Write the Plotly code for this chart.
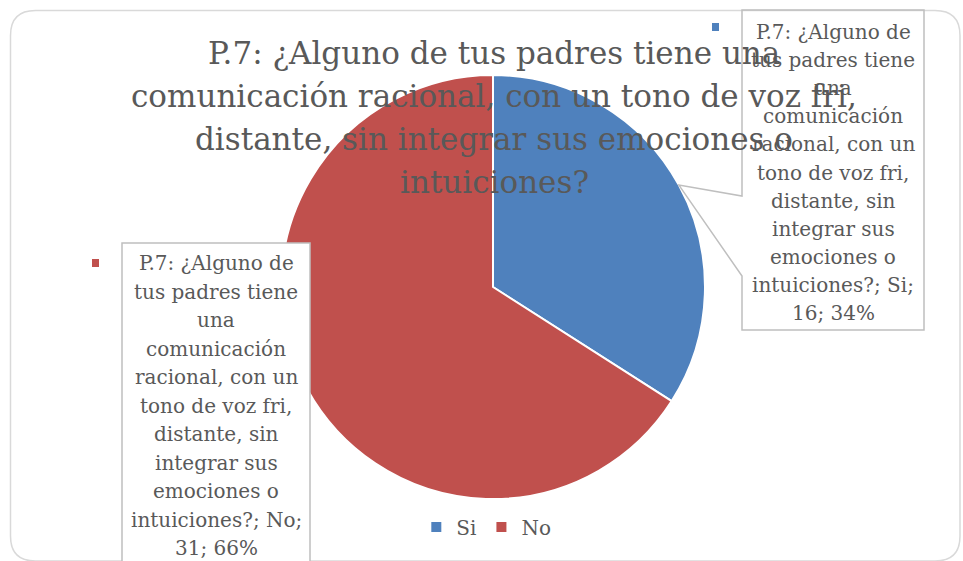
import math
import plotly.graph_objects as go

W, H = 963, 561

# ---- data ----
labels = ["Si", "No"]
values = [16, 31]
colors = ["#4F81BD", "#C0504D"]
title_lines = [
    "P.7: ¿Alguno de tus padres tiene una",
    "comunicación racional, con un tono de voz fri,",
    "distante, sin integrar sus emociones o",
    "intuiciones?",
]
label_common_lines = [
    "P.7: ¿Alguno de", "tus padres tiene", "una", "comunicación",
    "racional, con un", "tono de voz fri,", "distante, sin",
    "integrar sus", "emociones o",
]

total = sum(values)
pcts = [round(100 * v / total) for v in values]

def px(x):
    return x / W

def py(y):
    return 1 - y / H

TXT = "#595959"
SERIF = "DejaVu Serif, serif"

# pie geometry (pixels)
cx, cy, r = 493, 287, 212

fig = go.Figure(go.Pie(
    labels=labels, values=values, sort=False, direction="clockwise",
    rotation=0, textinfo="none", hoverinfo="label+value+percent",
    marker=dict(colors=colors, line=dict(color="white", width=2)),
    domain=dict(x=[px(cx - r), px(cx + r)], y=[py(cy + r), py(cy - r)]),
))

shapes = []
annotations = []

# outer rounded border
x0, y0, x1, y1, rr = 10.5, 10.5, 960, 561, 25
path = (f"M {px(x0+rr)},{py(y0)} L {px(x1-rr)},{py(y0)} Q {px(x1)},{py(y0)} {px(x1)},{py(y0+rr)} "
        f"L {px(x1)},{py(y1-rr)} Q {px(x1)},{py(y1)} {px(x1-rr)},{py(y1)} "
        f"L {px(x0+rr)},{py(y1)} Q {px(x0)},{py(y1)} {px(x0)},{py(y1-rr)} "
        f"L {px(x0)},{py(y0+rr)} Q {px(x0)},{py(y0)} {px(x0+rr)},{py(y0)} Z")
shapes.append(dict(type="path", xref="paper", yref="paper", path=path,
                   line=dict(color="#D9D9D9", width=1.5), layer="below"))

# slice mid-angle tip for first slice (clockwise from top)
mid0 = (values[0] / total) * 360 / 2
tipx = cx + r * math.sin(math.radians(mid0))
tipy = cy - r * math.cos(math.radians(mid0))

# right callout box
bx0, by0, bx1, by1 = 742, 10, 924, 330
callout = (f"M {px(bx0)},{py(by0)} L {px(bx1)},{py(by0)} L {px(bx1)},{py(by1)} L {px(bx0)},{py(by1)} "
           f"L {px(bx0)},{py(276)} L {px(tipx)},{py(tipy)} L {px(bx0)},{py(196)} Z")
shapes.append(dict(type="path", xref="paper", yref="paper", path=callout,
                   line=dict(color="#BFBFBF", width=1.5), fillcolor="rgba(255,255,255,0)", layer="above"))

# left box
lx0, ly0, lx1, ly1 = 122, 243, 310, 565
shapes.append(dict(type="rect", xref="paper", yref="paper",
                   x0=px(lx0), x1=px(lx1), y0=py(ly1), y1=py(ly0),
                   line=dict(color="#BFBFBF", width=1.5), fillcolor="white", layer="above"))

# legend-key squares near labels
shapes.append(dict(type="rect", xref="paper", yref="paper", x0=px(712), x1=px(719), y0=py(31), y1=py(23),
                   line=dict(width=0), fillcolor=colors[0], layer="above"))
shapes.append(dict(type="rect", xref="paper", yref="paper", x0=px(92), x1=px(99), y0=py(267), y1=py(259),
                   line=dict(width=0), fillcolor=colors[1], layer="above"))

def add_lines(lines, xc, y_first, step, size):
    for i, t in enumerate(lines):
        annotations.append(dict(text=t, x=px(xc), y=py(y_first + i * step), xref="paper", yref="paper",
                                xanchor="center", yanchor="middle", showarrow=False,
                                font=dict(family=SERIF, size=size, color=TXT)))

for i, (lab, val, pc) in enumerate(zip(labels, values, pcts)):
    lines = label_common_lines + [f"intuiciones?; {lab};", f"{val}; {pc}%"]
    if i == 0:
        add_lines(lines, (bx0 + bx1) / 2, 32, 28.1, 20)
    else:
        add_lines(lines, (lx0 + lx1) / 2, 263, 28.5, 20)

# title lines (on top)
add_lines(title_lines, 494, 53, 43, 31)

fig.update_layout(
    width=W, height=H, margin=dict(l=0, r=0, t=0, b=0),
    paper_bgcolor="white", plot_bgcolor="white",
    shapes=shapes, annotations=annotations,
    showlegend=True,
    legend=dict(orientation="h", x=0.505, xanchor="center", y=py(527), yanchor="middle",
                font=dict(family=SERIF, size=20, color=TXT), itemwidth=30,
                bgcolor="rgba(0,0,0,0)"),
)

fig.write_html("out.html", config={"displayModeBar": False},
               post_script="document.body.style.margin='0';")
